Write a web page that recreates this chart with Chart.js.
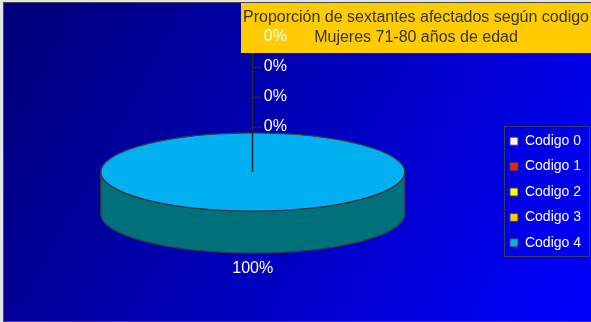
<!DOCTYPE html>
<html>
<head>
<meta charset="utf-8">
<script src="https://cdn.jsdelivr.net/npm/chart.js@4.4.1/dist/chart.umd.min.js"></script>
<style>
  html, body { margin: 0; padding: 0; background: #e4e4e4; }
</style>
</head>
<body>
<canvas id="chart" width="591" height="322"></canvas>
<script>
// values
const categories = ['Codigo 0', 'Codigo 1', 'Codigo 2', 'Codigo 3', 'Codigo 4'];
const percentages = [0, 0, 0, 0, 100];
const titleLines = ['Proporción de sextantes afectados según codigo', 'Mujeres 71-80 años de edad'];

// colours (top face / extruded side)
const sliceColors = ['#ffffff', '#ee1c24', '#ffff00', '#ffcc00', '#00b0f0'];
const sideColors = ['#9a9a9a', '#8a1015', '#8a8a00', '#8a6e00', '#00717a'];

const FONT = 'Liberation Sans, Arial, sans-serif';
const TILT = 0.257;      // vertical squash of the pie
const DEPTH = 42;        // height of the pie side
const EDGE = '#383846';

// helpers
function sideSegments(start, end) {
  const out = [];
  for (let k = -1; k <= 1; k++) {
    const lo = Math.max(start, 2 * Math.PI * k);
    const hi = Math.min(end, 2 * Math.PI * k + Math.PI);
    if (hi > lo) out.push([lo, hi]);
  }
  return out;
}

// 3D pie: draw the side, then squash Chart.js' own arcs
const pie3d = {
  id: 'pie3d',
  beforeDraw(chart) {
    const { ctx, width, height } = chart;
    ctx.save();
    const g = ctx.createLinearGradient(0, 0, width, height);
    g.addColorStop(0, '#000078');
    g.addColorStop(1, '#0000ff');
    ctx.fillStyle = g;
    ctx.fillRect(3, 2, width - 3, height - 2);
    ctx.strokeStyle = '#4a4a4a';
    ctx.lineWidth = 1;
    ctx.beginPath();
    ctx.moveTo(3.5, height);
    ctx.lineTo(3.5, 2.5);
    ctx.lineTo(width, 2.5);
    ctx.moveTo(3, height - 0.5);
    ctx.lineTo(width, height - 0.5);
    ctx.stroke();
    ctx.restore();
  },
  beforeDatasetsDraw(chart) {
    const { ctx } = chart;
    const arcs = chart.getDatasetMeta(0).data;
    const { x: cx, y: cy, outerRadius: R } = arcs[0];
    const ry = R * TILT;

    ctx.save();
    arcs.forEach((arc, i) => {
      if (arc.circumference <= 0) return;
      sideSegments(arc.startAngle, arc.endAngle).forEach(([lo, hi]) => {
        ctx.beginPath();
        ctx.ellipse(cx, cy, R, ry, 0, lo, hi);
        ctx.ellipse(cx, cy + DEPTH, R, ry, 0, hi, lo, true);
        ctx.closePath();
        ctx.fillStyle = sideColors[i];
        ctx.fill();
        ctx.strokeStyle = EDGE;
        ctx.lineWidth = 1.3;
        ctx.stroke();
      });
    });
    ctx.restore();

    ctx.save();
    ctx.translate(cx, cy);
    ctx.scale(1, TILT);
    ctx.translate(-cx, -cy);
  },
  afterDatasetsDraw(chart) {
    const { ctx } = chart;
    ctx.restore();

    const arcs = chart.getDatasetMeta(0).data;
    const { x: cx, y: cy, outerRadius: R } = arcs[0];
    const ry = R * TILT;

    // outline of the top face
    ctx.save();
    ctx.strokeStyle = EDGE;
    ctx.lineWidth = 1.3;
    arcs.forEach(arc => {
      if (arc.circumference <= 0) return;
      ctx.beginPath();
      if (arc.circumference >= 2 * Math.PI - 1e-6) {
        ctx.ellipse(cx, cy, R, ry, 0, 0, 2 * Math.PI);
      } else {
        ctx.moveTo(cx, cy);
        ctx.ellipse(cx, cy, R, ry, 0, arc.startAngle, arc.endAngle);
        ctx.closePath();
      }
      ctx.stroke();
    });
    ctx.restore();

    // label positions
    const labels = [];
    let stack = 0;
    arcs.forEach((arc, i) => {
      const text = percentages[i] + '%';
      if (percentages[i] === 0) {
        labels.push({ text, x: cx + 11, y: cy - ry - 6 - stack * 30, align: 'left', zero: true });
        stack++;
      } else {
        const mid = (arc.startAngle + arc.endAngle) / 2;
        const s = Math.sin(mid);
        labels.push({
          text,
          x: cx + Math.cos(mid) * R * 1.1,
          y: cy + s * ry * 1.1 + (s > 0 ? DEPTH + 12 * s : 12 * s),
          align: 'center'
        });
      }
    });

    // leader lines for the empty slices
    const zeros = labels.filter(l => l.zero);
    if (zeros.length) {
      const top = Math.min(...zeros.map(l => l.y));
      const lx = Math.floor(cx) + 0.5;
      ctx.save();
      ctx.strokeStyle = '#262630';
      ctx.lineWidth = 1.6;
      ctx.beginPath();
      ctx.moveTo(lx, cy);
      ctx.lineTo(lx, top);
      zeros.forEach(l => {
        ctx.moveTo(lx, Math.round(l.y) + 0.5);
        ctx.lineTo(lx + 9, Math.round(l.y) + 0.5);
      });
      ctx.stroke();
      ctx.restore();
    }

    // title box
    ctx.save();
    const bx = 241, by = 3, bw = chart.width - bx, bh = 50;
    ctx.fillStyle = '#ffcc00';
    ctx.fillRect(bx, by, bw, bh);
    ctx.fillStyle = '#333333';
    ctx.font = '16px ' + FONT;
    ctx.textAlign = 'center';
    ctx.textBaseline = 'middle';
    titleLines.forEach((line, i) => ctx.fillText(line, bx + bw / 2, by + 15 + i * 20));
    ctx.restore();

    // data labels
    ctx.save();
    ctx.fillStyle = '#ffffff';
    ctx.font = '16px ' + FONT;
    ctx.textBaseline = 'middle';
    labels.forEach(l => {
      ctx.textAlign = l.align;
      ctx.fillText(l.text, l.x, l.y);
    });
    ctx.restore();
  },
  afterLayout(chart) {
    // legend sits a bit lower than the pie
    const lg = chart.legend;
    lg.top += 20;
    lg.bottom += 20;
  },
  afterDraw(chart) {
    const lg = chart.legend;
    const hb = lg.legendHitBoxes;
    if (!hb || !hb.length) return;
    const { ctx } = chart;
    const first = hb[0], last = hb[hb.length - 1];
    const x0 = Math.round(first.left - 6) + 0.5;
    const y0 = Math.round(first.top - 8) + 0.5;
    const x1 = Math.round(lg.right - 2) + 0.5;
    const y1 = Math.round(last.top + last.height + 6) + 0.5;
    ctx.save();
    ctx.strokeStyle = '#3a3a5a';
    ctx.lineWidth = 1;
    ctx.strokeRect(x0, y0, x1 - x0, y1 - y0);
    ctx.restore();
  }
};

const pieDefaults = Chart.overrides.pie.plugins.legend.labels.generateLabels;

new Chart(document.getElementById('chart'), {
  type: 'pie',
  data: {
    labels: categories,
    datasets: [{
      data: percentages,
      backgroundColor: sliceColors,
      borderWidth: 0,
      radius: 152,
      clip: false
    }]
  },
  options: {
    responsive: false,
    devicePixelRatio: 1,
    animation: false,
    events: [],
    layout: { padding: { left: 7, top: 40, bottom: 18, right: 0 } },
    plugins: {
      tooltip: { enabled: false },
      title: { display: false },
      legend: {
        position: 'right',
        align: 'center',
        labels: {
          color: '#ffffff',
          font: { family: FONT, size: 14 },
          boxWidth: 8,
          boxHeight: 8,
          padding: 11.4,
          generateLabels(chart) {
            return pieDefaults(chart).map(item => ({
              ...item,
              lineWidth: 1,
              strokeStyle: '#404040',
              fontColor: '#ffffff'
            }));
          }
        }
      }
    }
  },
  plugins: [pie3d]
});
</script>
</body>
</html>
